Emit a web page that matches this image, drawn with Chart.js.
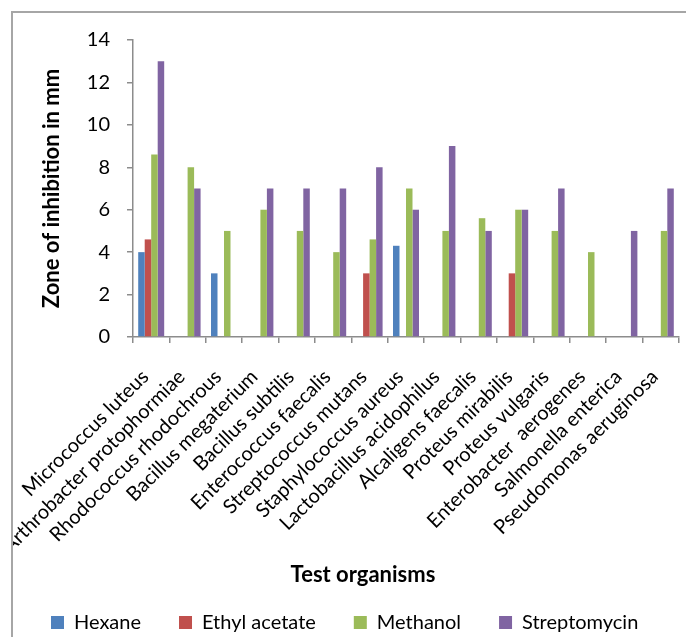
<!DOCTYPE html>
<html>
<head>
<meta charset="utf-8">
<title>Zone of inhibition by test organism</title>
<script src="https://cdn.jsdelivr.net/npm/chart.js@4/dist/chart.umd.min.js"></script>
<style>
  html, body { margin: 0; padding: 0; background: #ffffff; width: 686px; height: 637px; overflow: hidden; }
  #frame { position: absolute; left: 11px; top: 11px; width: 740px; height: 700px; border: 2px solid #a6a6a6; box-sizing: border-box; }
  #wrap { position: absolute; left: 13px; top: 13px; width: 700px; height: 630px; }
  canvas { display: block; }
</style>
</head>
<body>
<div id="frame"></div>
<div id="wrap"><canvas id="chart" width="700" height="630" style="width:700px;height:630px"></canvas></div>
<script>
// Test organisms along the x axis
const organisms = [
  'Micrococcus luteus',
  'Arthrobacter protophormiae',
  'Rhodococcus rhodochrous',
  'Bacillus megaterium',
  'Bacillus subtilis',
  'Enterococcus faecalis',
  'Streptococcus mutans',
  'Staphylococcus aureus',
  'Lactobacillus acidophilus',
  'Alcaligens faecalis',
  'Proteus mirabilis',
  'Proteus vulgaris',
  'Enterobacter  aerogenes',
  'Salmonella enterica',
  'Pseudomonas aeruginosa'
];

// Zone of inhibition (mm) per extract; null = no zone
const hexane       = [4, null, 3, null, null, null, null, 4.3, null, null, null, null, null, null, null];
const ethylAcetate = [4.6, null, null, null, null, null, 3, null, null, null, 3, null, null, null, null];
const methanol     = [8.6, 8, 5, 6, 5, 4, 4.6, 7, 5, 5.6, 6, 5, 4, null, 5];
const streptomycin = [13, 7, null, 7, 7, 7, 8, 6, 9, 5, 6, 7, null, 5, 7];

// Value axis ticks
const yTickValues = [0, 2, 4, 6, 8, 10, 12, 14];

const seriesNames = ['Hexane', 'Ethyl acetate', 'Methanol', 'Streptomycin'];
const seriesColors = ['#4f81bd', '#c0504d', '#9bbb59', '#8064a2'];
const seriesValues = [hexane, ethylAcetate, methanol, streptomycin];

const FONT = 'Lato, "Open Sans", sans-serif';
const AXIS_GREY = '#8c8c8c';

const datasets = seriesNames.map((name, i) => ({
  label: name,
  data: seriesValues[i],
  backgroundColor: seriesColors[i],
  borderWidth: 0,
  categoryPercentage: 0.714,
  barPercentage: 1.0
}));

new Chart(document.getElementById('chart'), {
  type: 'bar',
  data: { labels: organisms, datasets },
  options: {
    responsive: false,
    animation: false,
    devicePixelRatio: 1,
    layout: { padding: { top: 27, right: 0, bottom: 0.5, left: 0 } },
    plugins: {
      tooltip: { enabled: false },
      title: {
        display: true,
        position: 'bottom',
        weight: 500,
        text: 'Test organisms',
        color: '#000000',
        font: { family: FONT, size: 22, weight: 'bold', lineHeight: 1 },
        padding: { top: 0, bottom: -11.5 }
      },
      legend: {
        position: 'bottom',
        align: 'start',
        labels: {
          boxWidth: 13,
          boxHeight: 13,
          padding: 38,
          color: '#000000',
          font: { family: FONT, size: 20 }
        }
      }
    },
    scales: {
      x: {
        grid: { display: true, offset: true, drawOnChartArea: false, drawTicks: true, tickLength: 6, color: AXIS_GREY, lineWidth: 1.5 },
        border: { display: true, color: AXIS_GREY, width: 1.5 },
        ticks: {
          autoSkip: false,
          minRotation: 45,
          maxRotation: 45,
          padding: 22,
          labelOffset: -6,
          color: '#000000',
          font: { family: FONT, size: 20 }
        },
        afterFit(scale) {
          scale.height = 227;
          scale.paddingLeft = 0;
          scale.paddingRight = 34;
        }
      },
      y: {
        min: 0,
        max: 14,
        afterBuildTicks(scale) {
          scale.ticks = yTickValues.map(v => ({ value: v }));
        },
        grid: { display: true, drawOnChartArea: false, drawTicks: true, tickLength: 6, color: AXIS_GREY, lineWidth: 1.5 },
        border: { display: true, color: AXIS_GREY, width: 1.5 },
        ticks: {
          padding: 17,
          color: '#000000',
          font: { family: FONT, size: 20 }
        },
        title: {
          display: true,
          text: 'Zone of inhibition in mm',
          color: '#000000',
          font: { family: FONT, size: 22, weight: 'bold', lineHeight: 1 },
          padding: { top: 28, bottom: 0 }
        },
        afterFit(scale) {
          scale.width = 120;
          scale.paddingTop = 0;
          scale.paddingBottom = 0;
        }
      }
    }
  }
});
</script>
</body>
</html>
